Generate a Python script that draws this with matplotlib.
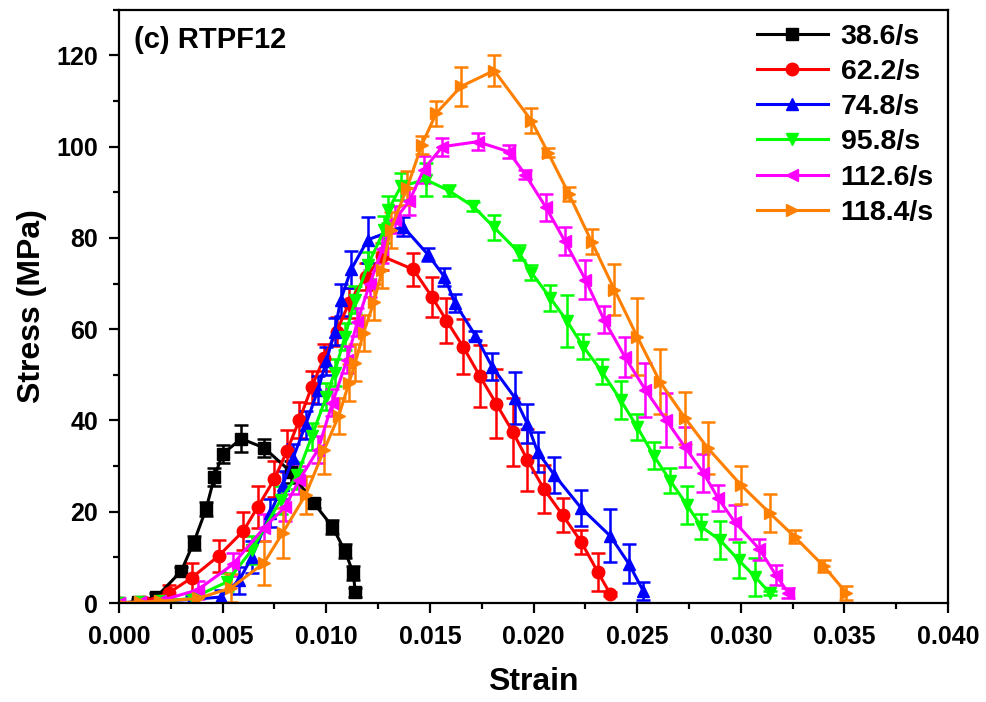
import numpy as np
import matplotlib
matplotlib.use("Agg")
import matplotlib.pyplot as plt
from matplotlib.ticker import MultipleLocator, FormatStrFormatter
from matplotlib.lines import Line2D

plt.rcParams['font.family'] = ['Liberation Sans', 'DejaVu Sans']
plt.rcParams['font.weight'] = 'bold'

# strain / stress / error for each strain rate
labels = ['38.6/s', '62.2/s', '74.8/s', '95.8/s', '112.6/s', '118.4/s']
colors = ['#000000', '#FF0000', '#0000FF', '#00FF00', '#FF00FF', '#FF8000']
markers = ['s', 'o', '^', 'v', '<', '>']

strain_386 = [0, 0.0009, 0.0018, 0.0030, 0.0036, 0.0042, 0.0046, 0.0050, 0.0059, 0.0070,
              0.0083, 0.0094, 0.0103, 0.0109, 0.0113, 0.0114]
stress_386 = [0, 0.3, 1.3, 7.0, 13.2, 20.6, 27.6, 32.7, 36.0, 34.0, 28.7, 21.9, 16.7, 11.4, 6.6, 2.4]
err_386 = [0.3, 0.5, 0.8, 1.0, 1.5, 1.5, 2.0, 2.0, 3.0, 2.0, 2.5, 1.0, 1.5, 1.5, 1.5, 1.0]

strain_622 = [0, 0.0012, 0.0024, 0.0035, 0.0048, 0.0060, 0.0067, 0.0075, 0.0081, 0.0087,
              0.0093, 0.0099, 0.0105, 0.0111, 0.0119, 0.0127, 0.0142, 0.0151, 0.0158, 0.0166,
              0.0174, 0.0182, 0.0190, 0.0197, 0.0205, 0.0214, 0.0223, 0.0231, 0.0237]
stress_622 = [0, 0.3, 2.2, 5.5, 10.3, 15.8, 21.1, 27.2, 33.3, 40.1, 47.4, 53.8, 59.5, 65.8,
              71.5, 76.0, 73.1, 67.1, 61.9, 56.2, 49.8, 43.7, 37.5, 31.4, 25.0, 19.3, 13.4, 6.8, 2.0]
err_622 = [0.3, 0.5, 1.8, 3.2, 3.5, 4.2, 4.6, 4.0, 4.6, 4.0, 3.5, 3.0, 3.2, 3.3, 3.0, 3.0,
           3.6, 4.4, 4.9, 6.0, 6.8, 7.5, 7.5, 6.8, 5.3, 3.8, 2.7, 4.2, 0.5]

strain_748 = [0, 0.0010, 0.0020, 0.0035, 0.0049, 0.0058, 0.0064, 0.0073, 0.0079, 0.0084,
              0.0090, 0.0096, 0.0100, 0.0104, 0.0107, 0.0112, 0.0120, 0.0137, 0.0149, 0.0157,
              0.0162, 0.0172, 0.0180, 0.0191, 0.0197, 0.0202, 0.0210, 0.0223, 0.0237, 0.0246, 0.0253]
stress_748 = [0, 0.2, 0.4, 0.8, 1.3, 5.0, 10.0, 19.7, 25.9, 31.8, 39.0, 46.7, 53.0, 59.5,
              66.5, 73.1, 79.6, 82.5, 76.4, 71.5, 65.8, 58.6, 51.8, 45.0, 39.3, 33.1, 28.1,
              20.8, 14.7, 8.6, 2.6]
err_748 = [0.3, 0.5, 0.5, 0.8, 1.5, 3.0, 3.5, 3.0, 3.0, 3.0, 3.0, 3.0, 3.0, 3.0, 3.5, 4.0,
           5.0, 2.0, 1.4, 2.0, 2.0, 1.0, 2.9, 5.7, 4.3, 4.3, 4.0, 4.0, 5.8, 4.3, 1.9]

strain_958 = [0, 0.0010, 0.0020, 0.0035, 0.0052, 0.0064, 0.0078, 0.0086, 0.0093, 0.0100,
              0.0104, 0.0109, 0.0114, 0.0120, 0.0128, 0.0130, 0.0136, 0.0148, 0.0159, 0.0171,
              0.0181, 0.0193, 0.0199, 0.0208, 0.0216, 0.0224, 0.0233, 0.0242, 0.0250, 0.0258,
              0.0266, 0.0274, 0.0281, 0.0290, 0.0299, 0.0307, 0.0314]
stress_958 = [0, 0.2, 0.4, 1.0, 4.6, 11.6, 22.6, 28.0, 36.5, 45.2, 50.5, 58.4, 66.5, 74.0,
              81.8, 86.2, 91.3, 92.8, 90.4, 86.9, 82.3, 76.8, 72.4, 66.9, 61.9, 56.2, 50.7,
              44.5, 38.6, 32.3, 26.8, 21.5, 16.7, 13.8, 9.4, 5.7, 2.2]
err_958 = [0.3, 0.5, 0.5, 1.0, 2.0, 3.0, 3.0, 3.0, 3.0, 3.0, 3.0, 3.0, 3.0, 3.0, 3.0, 3.0,
           3.0, 3.7, 1.3, 1.0, 2.7, 1.6, 1.6, 2.9, 5.7, 2.7, 2.7, 4.2, 2.9, 2.9, 2.7, 4.2,
           2.7, 4.2, 4.0, 4.2, 0.5]

strain_1126 = [0, 0.0010, 0.0020, 0.0038, 0.0055, 0.0070, 0.0080, 0.0087, 0.0096, 0.0103,
               0.0110, 0.0115, 0.0121, 0.0127, 0.0133, 0.0140, 0.0147, 0.0156, 0.0173, 0.0188,
               0.0196, 0.0206, 0.0215, 0.0225, 0.0234, 0.0244, 0.0254, 0.0264, 0.0273, 0.0282,
               0.0289, 0.0297, 0.0309, 0.0317, 0.0323]
stress_1126 = [0, 0.2, 0.5, 2.9, 8.5, 16.5, 21.0, 27.0, 33.6, 43.9, 53.3, 61.6, 70.0, 77.5,
               84.0, 88.0, 95.0, 100.0, 101.1, 98.9, 93.9, 86.7, 79.4, 70.9, 62.1, 54.0, 46.7,
               40.1, 34.2, 28.5, 23.0, 17.8, 11.8, 6.1, 2.2]
err_1126 = [0.3, 0.5, 0.5, 2.0, 2.5, 3.0, 3.0, 3.0, 3.0, 3.0, 3.0, 3.0, 3.0, 3.0, 3.0, 3.0,
            3.0, 2.0, 1.8, 1.4, 1.0, 2.9, 3.1, 4.2, 2.9, 4.4, 5.9, 5.9, 4.4, 4.2, 2.9, 3.7,
            2.3, 2.2, 1.0]

strain_1184 = [0, 0.0010, 0.0020, 0.0038, 0.0054, 0.0070, 0.0079, 0.0090, 0.0099, 0.0106,
               0.0111, 0.0114, 0.0118, 0.0123, 0.0127, 0.0131, 0.0139, 0.0146, 0.0153, 0.0165,
               0.0181, 0.0199, 0.0207, 0.0217, 0.0228, 0.0239, 0.0250, 0.0261, 0.0273, 0.0284,
               0.0300, 0.0314, 0.0326, 0.0340, 0.0351]
stress_1184 = [0, 0.2, 0.4, 1.0, 3.3, 8.8, 15.4, 23.7, 33.6, 41.0, 48.3, 52.7, 59.2, 66.0,
               73.0, 81.8, 91.0, 100.3, 107.3, 113.2, 116.7, 105.7, 98.7, 89.7, 79.2, 68.7,
               58.4, 48.5, 40.6, 34.0, 25.9, 19.7, 14.5, 8.1, 2.2]
err_1184 = [0.3, 0.5, 0.5, 1.0, 3.0, 4.8, 5.5, 4.2, 5.3, 4.0, 4.0, 4.0, 4.0, 4.0, 4.0, 4.0,
            3.7, 2.0, 2.8, 4.2, 3.3, 2.7, 1.0, 1.5, 2.7, 5.5, 8.4, 7.1, 5.7, 5.7, 4.2, 4.2,
            1.4, 1.4, 1.5]

strains = [strain_386, strain_622, strain_748, strain_958, strain_1126, strain_1184]
stresses = [stress_386, stress_622, stress_748, stress_958, stress_1126, stress_1184]
errs = [err_386, err_622, err_748, err_958, err_1126, err_1184]

fig = plt.figure(figsize=(9.87, 7.02), dpi=100)
ax = fig.add_axes([0.1206, 0.141, 0.8399, 0.845])

handles = []
for i in range(6):
    ax.errorbar(strains[i], stresses[i], yerr=errs[i], color=colors[i], marker=markers[i],
                markersize=9, linewidth=2.2, elinewidth=1.8, capsize=5, capthick=1.8)
    handles.append(Line2D([], [], color=colors[i], marker=markers[i], markersize=9,
                          linewidth=2.2, label=labels[i]))

ax.set_xlim(0, 0.040)
ax.set_ylim(0, 130)
ax.xaxis.set_major_locator(MultipleLocator(0.005))
ax.xaxis.set_minor_locator(MultipleLocator(0.0025))
ax.yaxis.set_major_locator(MultipleLocator(20))
ax.yaxis.set_minor_locator(MultipleLocator(10))
ax.xaxis.set_major_formatter(FormatStrFormatter('%.3f'))
ax.tick_params(which='major', direction='out', length=7, width=1.6, labelsize=18)
ax.tick_params(axis='x', which='major', pad=9)
ax.tick_params(axis='y', which='major', pad=8)
ax.tick_params(which='minor', direction='out', length=4, width=1.6)
for lab in ax.get_xticklabels() + ax.get_yticklabels():
    lab.set_fontweight('bold')
for sp in ax.spines.values():
    sp.set_linewidth(1.6)

ax.set_xlabel('Strain', fontsize=23, fontweight='bold', labelpad=13)
ax.set_ylabel('Stress (MPa)', fontsize=23, fontweight='bold', labelpad=7)
ax.text(0.018, 0.972, '(c) RTPF12', transform=ax.transAxes, fontsize=21,
        fontweight='bold', va='top', ha='left')

leg = ax.legend(handles=handles, loc='upper right', frameon=False, fontsize=20.5,
                handlelength=2.5, labelspacing=0.32, borderaxespad=0.1, handletextpad=0.45)
for t in leg.get_texts():
    t.set_fontweight('bold')

fig.savefig('out.png', dpi=100)
